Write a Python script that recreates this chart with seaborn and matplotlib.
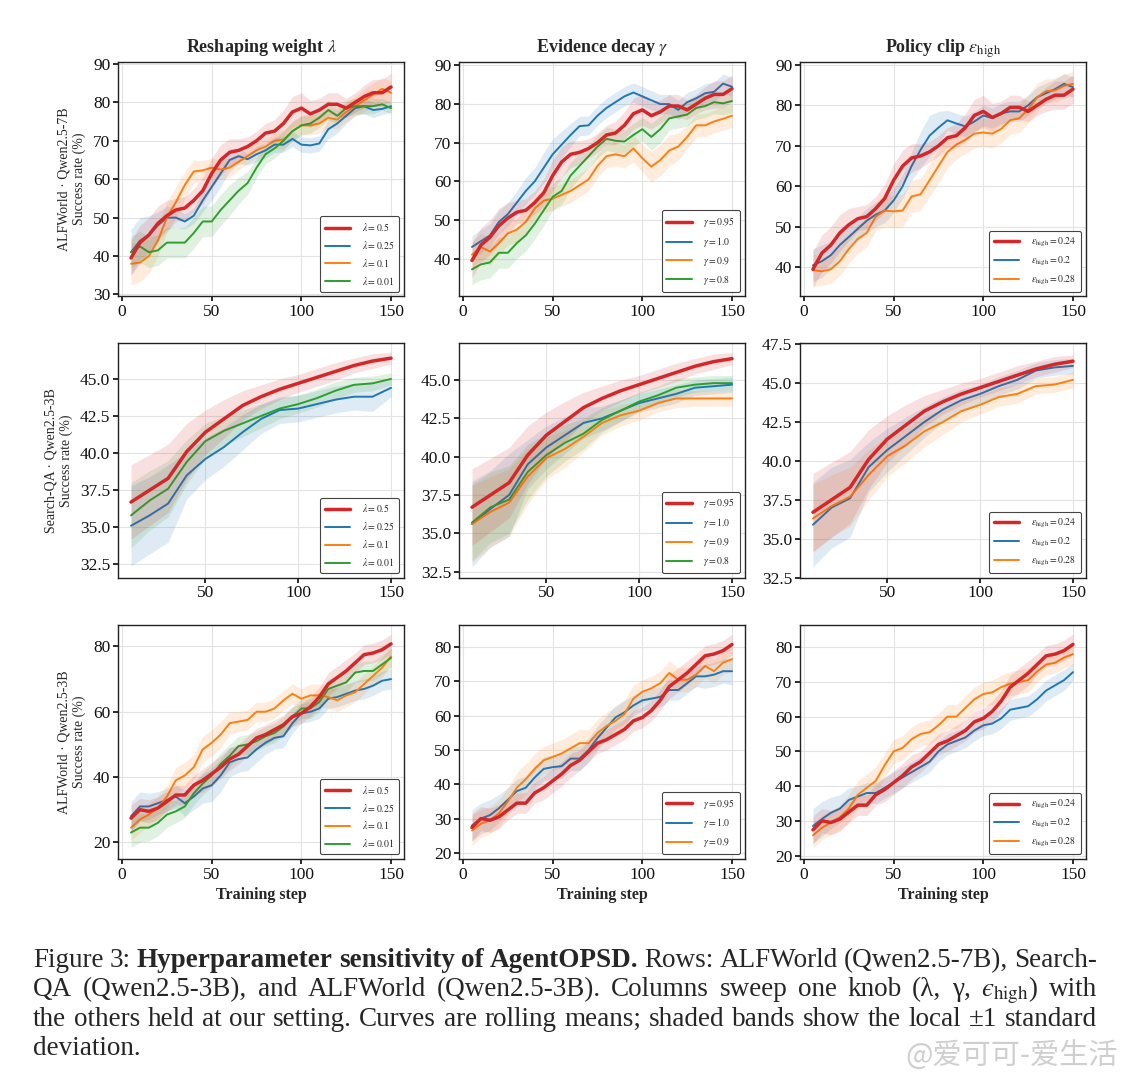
import matplotlib
matplotlib.use("Agg")
import matplotlib.pyplot as plt
from matplotlib.ticker import MultipleLocator
import numpy as np
import seaborn as sns

sns.set_theme(style="whitegrid")
plt.rcParams['font.family'] = ['Liberation Serif', 'DejaVu Serif']
plt.rcParams['mathtext.fontset'] = 'stix'
plt.rcParams['axes.edgecolor'] = '#222222'
plt.rcParams['axes.linewidth'] = 1.0
plt.rcParams['grid.color'] = '#e3e3e3'
plt.rcParams['grid.linewidth'] = 0.8
plt.rcParams['xtick.bottom'] = True
plt.rcParams['ytick.left'] = True
plt.rcParams['xtick.color'] = '#111111'
plt.rcParams['ytick.color'] = '#111111'
plt.rcParams['xtick.major.size'] = 3.5
plt.rcParams['ytick.major.size'] = 3.5

# colours of the four settings
c_red, c_blue, c_orange, c_green = '#d62728', '#1f77b4', '#ff7f0e', '#2ca02c'

# training steps
steps_alf = list(range(5, 151, 5))
steps_sqa = list(range(10, 151, 10))

# ---- Row 1: ALFWorld, Qwen2.5-7B ----
r1_red = [39.5, 43.5, 45.5, 48.5, 50.5, 52, 52.5, 54.5, 57, 61.5,
          65, 67, 67.5, 68.5, 70, 72, 72.5, 74.5, 77.5, 78.5,
          77, 78, 79.5, 79.5, 78.5, 80, 81.5, 82.5, 82.5, 84]
r1_red_sd = [4.5, 4.5, 4.5, 4.5, 4, 3, 3, 3, 3.5, 4,
             4, 3.5, 3, 2.5, 2.5, 2.5, 3, 3.5, 4, 4,
             3.5, 3, 3, 3, 2.5, 2.5, 3, 3.5, 3.5, 3.5]
r1c1_blue = [41, 44, 45.5, 48, 50, 50, 49, 50.5, 54.5, 58,
             61.5, 65, 66, 65.2, 66.5, 67.5, 69, 69, 70.5, 69,
             68.8, 69.3, 73, 74.5, 76.5, 78.5, 79, 78, 78.3, 79]
r1c1_blue_sd = [6, 6, 5, 3.5, 3, 2.5, 2, 2, 3, 3.5,
                3.5, 3, 2, 1.5, 2, 2, 2, 2, 2, 2,
                2, 2, 2.5, 2.5, 2, 2, 2, 2, 1.5, 1.5]
r1c1_orange = [38, 38.3, 40, 44, 50, 54, 58.5, 62, 62.3, 63,
               62.5, 63, 64.5, 66, 67.5, 68.5, 70, 70.3, 72.5, 74,
               74, 74.5, 76, 75.5, 77.5, 79, 80.5, 82, 83.5, 82.5]
r1c1_orange_sd = [5.5, 5, 4.5, 4, 4, 4, 3.5, 3, 2.5, 2.5,
                  2.5, 2.5, 2, 2, 2, 2, 2, 2.5, 2.5, 2.5,
                  2.5, 2.5, 2.5, 2.5, 2.5, 2.5, 3, 3, 3, 3]
r1c1_green = [41, 42.5, 41, 41.5, 43.5, 43.5, 43.5, 46, 49, 49,
              52, 54.5, 57, 59, 63, 66.5, 68, 70, 72.5, 74,
              74.5, 76, 78, 76.5, 78.5, 79, 79, 79, 79.5, 78.5]
r1c1_green_sd = [4, 4, 4, 4, 4, 4, 4, 4, 4, 4,
                 4, 4, 3.5, 3, 2.5, 2.5, 2.5, 2.5, 2.5, 2.5,
                 2.5, 2.5, 2.5, 2, 2, 2, 2, 2, 1.5, 1.5]
r1c2_blue = [43, 44.5, 46, 49.5, 51.5, 54.5, 57.5, 60, 63.5, 67,
             69.5, 72, 74.3, 74.5, 77, 79, 80.5, 82, 83, 82,
             81, 80, 80, 78.5, 80.5, 81.5, 82.8, 83.2, 85.3, 84.5]
r1c2_blue_sd = [3, 3, 3, 3, 3, 3, 3.5, 3.5, 4, 4,
                3.5, 3, 2.5, 2.5, 2.5, 2.5, 2.5, 2.5, 2.5, 2.5,
                2.5, 2.5, 2.5, 2.5, 2.5, 2.5, 2.5, 2.5, 2.5, 2.5]
r1c2_orange = [41, 43, 41.8, 44, 46.5, 47.5, 49.5, 53, 55, 55.5,
               56.5, 57.5, 59, 60.5, 64, 66.5, 67, 66.5, 68.5, 66,
               63.8, 65.5, 68, 69, 71.5, 74.5, 74.5, 75.5, 76.2, 77]
r1c2_orange_sd = [3.5, 3.5, 3.5, 3, 3, 3, 3, 3, 3, 3,
                  3, 3, 3, 3, 3, 3, 3, 3, 3.5, 3.5,
                  4, 4, 4, 3.5, 3, 3, 3, 3, 3, 3]
r1c2_green = [37.2, 38.5, 39, 41.5, 41.5, 44, 46, 49, 52.5, 56,
              57.5, 61.5, 64, 66.5, 69, 71, 70.5, 70.3, 72, 73.5,
              71.5, 73.5, 76.3, 76.8, 77.3, 79, 79.5, 80.5, 80.2, 80.8]
r1c2_green_sd = [4, 4, 4, 4, 4, 4, 4, 4, 4, 3.5,
                 3.5, 3.5, 3, 3, 3, 3, 3, 3, 3, 3,
                 3.5, 3.5, 3, 3, 3, 3, 3, 3, 3, 3]
r1c3_blue = [40.5, 41.5, 43, 45.5, 47.5, 49.5, 51.5, 53, 54, 56.5,
             60, 65, 69, 72.5, 74.5, 76.3, 75.5, 74.8, 76, 77.5,
             76.8, 78, 78.5, 78.5, 80, 82, 83, 84, 85.3, 84.5]
r1c3_blue_sd = [4, 4, 3.5, 3, 3, 3, 3, 3, 3, 3,
                3, 3.5, 4.5, 5, 4, 2.5, 2.5, 2.5, 2.5, 2.5,
                2.5, 2.5, 2.5, 2.5, 2.5, 2.5, 2.5, 2.5, 2.5, 2.5]
r1c3_orange = [39.3, 39, 39.5, 41.5, 44.5, 47, 48.5, 52.5, 54, 53.8,
               54, 57.5, 58, 61.5, 65, 68.5, 70.3, 71.5, 73, 73.3,
               73, 74.2, 76.3, 76.8, 79, 82, 83.5, 83.7, 84.8, 85.3]
r1c3_orange_sd = [4, 3.5, 3.5, 3.5, 3.5, 3.5, 3.5, 3.5, 4, 4,
                  4, 4, 4, 4, 4, 4, 3.5, 3.5, 3.5, 3.5,
                  3.5, 3.5, 3.5, 3.5, 3.5, 3.5, 3, 3, 3, 3]

# ---- Row 2: Search-QA, Qwen2.5-3B ----
r2_red = [36.7, 37.5, 38.3, 40.1, 41.4, 42.3, 43.2, 43.8, 44.3, 44.7, 45.1, 45.5, 45.9, 46.2, 46.4]
r2_red_sd = [2.5, 2.4, 2.3, 1.9, 1.5, 1.3, 1.0, 0.8, 0.7, 0.6, 0.6, 0.6, 0.5, 0.5, 0.4]
r2c1_blue = [35.1, 35.8, 36.6, 38.5, 39.6, 40.4, 41.4, 42.3, 42.9, 43.0, 43.3, 43.6, 43.8, 43.8, 44.4]
r2c1_blue_sd = [2.7, 2.6, 2.6, 1.6, 1.4, 1.3, 1.2, 1.0, 0.9, 0.9, 0.9, 0.9, 0.9, 1.0, 0.6]
r2c1_green = [35.8, 36.8, 37.6, 39.4, 40.8, 41.5, 42.0, 42.5, 43.0, 43.3, 43.7, 44.2, 44.6, 44.7, 45.0]
r2c1_green_sd = [2.2, 2.0, 1.9, 1.5, 1.2, 1.0, 0.9, 0.8, 0.7, 0.6, 0.6, 0.6, 0.5, 0.5, 0.4]
r2c2_blue = [35.6, 36.6, 37.5, 39.5, 40.6, 41.4, 42.2, 42.5, 43.0, 43.5, 43.8, 44.1, 44.5, 44.6, 44.7]
r2c2_blue_sd = [2.8, 2.5, 2.7, 1.6, 1.4, 1.2, 1.0, 0.8, 0.7, 0.6, 0.6, 0.6, 0.5, 0.5, 0.5]
r2c2_orange = [35.6, 36.4, 37.0, 38.7, 39.9, 40.5, 41.3, 42.2, 42.7, 43.0, 43.5, 43.8, 43.8, 43.8, 43.8]
r2c2_orange_sd = [2.5, 2.3, 2.2, 1.8, 1.4, 1.2, 1.0, 0.8, 0.7, 0.6, 0.6, 0.6, 0.5, 0.5, 0.5]
r2c2_green = [35.7, 36.7, 37.2, 39.0, 40.1, 40.9, 41.5, 42.4, 43.0, 43.6, 44.0, 44.5, 44.7, 44.8, 44.8]
r2c2_green_sd = [2.5, 2.3, 2.2, 1.8, 1.4, 1.2, 1.0, 0.8, 0.7, 0.6, 0.6, 0.6, 0.5, 0.5, 0.5]
r2c3_blue = [35.9, 37.0, 37.6, 39.6, 40.7, 41.6, 42.5, 43.3, 43.9, 44.3, 44.8, 45.2, 45.8, 46.0, 46.1]
r2c3_blue_sd = [2.7, 2.6, 2.5, 1.6, 1.4, 1.2, 1.0, 0.8, 0.7, 0.6, 0.6, 0.6, 0.5, 0.5, 0.5]
r2c3_orange = [36.3, 37.1, 37.7, 39.1, 40.3, 41.0, 41.9, 42.5, 43.2, 43.6, 44.1, 44.3, 44.8, 44.9, 45.2]
r2c3_orange_sd = [2.2, 2.0, 1.9, 1.6, 1.3, 1.1, 1.0, 0.8, 0.7, 0.6, 0.6, 0.6, 0.5, 0.5, 0.5]

# ---- Row 3: ALFWorld, Qwen2.5-3B ----
r3_red = [27.4, 30, 29.5, 30.5, 32.5, 34.5, 34.5, 37.5, 39, 41,
          43, 45.5, 47, 49.5, 52, 53, 54.5, 56, 58.5, 59.5,
          61.5, 64.5, 68.5, 70.5, 72.5, 75, 77.5, 78, 79, 80.8]
r3_red_sd = [4, 3.5, 3.5, 3.5, 3, 3, 3, 3, 3.5, 3.5,
             3.5, 3.5, 3, 3, 3, 3, 3, 3, 3, 3,
             3, 3, 3.5, 3.5, 3.5, 3, 3, 3, 3, 3]
r3c1_blue = [28, 31, 31, 32, 33, 34, 32, 34, 36.5, 37.5,
             40.5, 44.5, 45.5, 46, 48.5, 50.5, 52, 52.5, 56.5, 59.5,
             60, 61, 64, 64.5, 65.5, 66.5, 67, 68, 69.5, 70]
r3c1_blue_sd = [4.5, 4.5, 4, 3.5, 3.5, 3.5, 4, 4, 4.5, 5,
                5, 4.5, 4, 4, 4, 3.5, 3.5, 3.5, 3, 3,
                3, 3, 3, 3, 3, 3, 3, 3, 3, 3]
r3c1_orange = [24.5, 27, 28.5, 30.5, 34, 39, 40.5, 43, 48.5, 50.5,
               53, 56.5, 57, 57.5, 60, 60, 61, 63.5, 65.5, 64,
               65, 65, 64.5, 63.5, 65, 66, 68.5, 71, 73.5, 77]
r3c1_orange_sd = [4, 4, 3.5, 3.5, 3.5, 4, 4, 4, 4, 4,
                  4, 3.5, 3, 3, 3, 3, 3, 3, 3, 3,
                  3.5, 3.5, 3.5, 3.5, 3.5, 3, 3, 3, 3, 3]
r3c1_green = [23, 24.5, 24.5, 26, 28.5, 29.5, 31, 35, 38, 40.5,
              44, 46.5, 49.5, 50, 51, 52.5, 53.5, 55.5, 58.5, 61,
              61, 63, 67, 68, 69, 72, 72.5, 72.5, 74.5, 76.5]
r3c1_green_sd = [4.5, 4.5, 4, 4, 4, 3.5, 3.5, 3.5, 3.5, 3.5,
                 3.5, 3.5, 3, 3, 3, 3, 3, 3, 3, 3,
                 3, 3, 3, 3, 3, 3, 3, 3, 3, 3]
r3c2_blue = [28, 30, 31, 33, 35.5, 38, 39, 42, 44.5, 45,
             45.3, 47.5, 47.5, 50, 53.5, 56.5, 59.5, 61, 63, 64.5,
             65, 65.5, 67.5, 67.5, 69.5, 71.5, 71.5, 72, 73, 73]
r3c2_blue_sd = [4.5, 4.5, 4.5, 4, 3.5, 3.5, 3.5, 3.5, 3.5, 3.5,
                3.5, 3.5, 3.5, 3.5, 3.5, 3.5, 3.5, 3.5, 3, 3,
                3, 3, 3, 3, 3, 3, 3.5, 3.5, 3.5, 4]
r3c2_orange = [26.5, 28.5, 29.5, 31.5, 35, 39, 41.5, 44.5, 47, 48,
               49, 50.5, 52, 52, 55, 57, 58.5, 60.5, 65, 67,
               68, 69.5, 72.5, 70.5, 70.5, 72, 74.5, 73, 75.5, 76.5]
r3c2_orange_sd = [4.5, 4, 4, 4, 4, 4.5, 4.5, 4.5, 4, 4,
                  4, 4, 4, 4, 4, 4, 4, 4, 4, 3.5,
                  3.5, 3.5, 3.5, 3.5, 3.5, 3.5, 3.5, 3.5, 3.5, 3.5]
r3c3_blue = [28.5, 30.5, 32.3, 33.5, 36, 37, 38, 38, 39.5, 41,
             42.5, 44, 45.5, 47, 50, 52, 53, 54, 56, 57.5,
             58, 59.5, 62, 62.5, 63, 65, 67.5, 69, 70.5, 72.8]
r3c3_blue_sd = [5, 5, 4.5, 4, 3.5, 3, 3, 3, 3, 3,
                3, 3, 3, 3, 3, 3, 3, 3, 3, 3,
                3, 3, 3, 3, 3, 3, 3, 3, 3, 2.5]
r3c3_orange = [25.8, 28, 29.5, 31, 33.5, 37.5, 39.5, 41.5, 46, 50,
               51, 53.5, 55, 55.5, 57.5, 60, 60, 62.5, 65, 66.5,
               67, 68.5, 69.5, 70, 70.5, 73, 75, 75.5, 77, 78]
r3c3_orange_sd = [3.5, 3.5, 3.5, 3.5, 4, 4, 4, 4, 3.5, 3.5,
                  3.5, 3.5, 3.5, 3.5, 3.5, 3.5, 3.5, 3.5, 3.5, 3.5,
                  3.5, 3.5, 3.5, 3.5, 3.5, 3, 3, 3, 3, 3]

# labels
col_titles = [r"Reshaping weight $\lambda$", r"Evidence decay $\gamma$",
              r"Policy clip $\varepsilon_{\mathrm{high}}$"]
row_labels = ["ALFWorld · Qwen2.5-7B\nSuccess rate (%)",
              "Search-QA · Qwen2.5-3B\nSuccess rate (%)",
              "ALFWorld · Qwen2.5-3B\nSuccess rate (%)"]
lam_labels = [r"$\lambda = 0.5$", r"$\lambda = 0.25$", r"$\lambda = 0.1$", r"$\lambda = 0.01$"]
gam_labels = [r"$\gamma = 0.95$", r"$\gamma = 1.0$", r"$\gamma = 0.9$", r"$\gamma = 0.8$"]
eps_labels = [r"$\varepsilon_{\mathrm{high}} = 0.24$", r"$\varepsilon_{\mathrm{high}} = 0.2$",
              r"$\varepsilon_{\mathrm{high}} = 0.28$"]

# each panel: list of (mean, sd, colour, label); None mean -> legend entry only
panels = [
    [
        [(r1_red, r1_red_sd, c_red, lam_labels[0]), (r1c1_blue, r1c1_blue_sd, c_blue, lam_labels[1]),
         (r1c1_orange, r1c1_orange_sd, c_orange, lam_labels[2]), (r1c1_green, r1c1_green_sd, c_green, lam_labels[3])],
        [(r1_red, r1_red_sd, c_red, gam_labels[0]), (r1c2_blue, r1c2_blue_sd, c_blue, gam_labels[1]),
         (r1c2_orange, r1c2_orange_sd, c_orange, gam_labels[2]), (r1c2_green, r1c2_green_sd, c_green, gam_labels[3])],
        [(r1_red, r1_red_sd, c_red, eps_labels[0]), (r1c3_blue, r1c3_blue_sd, c_blue, eps_labels[1]),
         (r1c3_orange, r1c3_orange_sd, c_orange, eps_labels[2])],
    ],
    [
        [(r2_red, r2_red_sd, c_red, lam_labels[0]), (r2c1_blue, r2c1_blue_sd, c_blue, lam_labels[1]),
         (None, None, c_orange, lam_labels[2]), (r2c1_green, r2c1_green_sd, c_green, lam_labels[3])],
        [(r2_red, r2_red_sd, c_red, gam_labels[0]), (r2c2_blue, r2c2_blue_sd, c_blue, gam_labels[1]),
         (r2c2_orange, r2c2_orange_sd, c_orange, gam_labels[2]), (r2c2_green, r2c2_green_sd, c_green, gam_labels[3])],
        [(r2_red, r2_red_sd, c_red, eps_labels[0]), (r2c3_blue, r2c3_blue_sd, c_blue, eps_labels[1]),
         (r2c3_orange, r2c3_orange_sd, c_orange, eps_labels[2])],
    ],
    [
        [(r3_red, r3_red_sd, c_red, lam_labels[0]), (r3c1_blue, r3c1_blue_sd, c_blue, lam_labels[1]),
         (r3c1_orange, r3c1_orange_sd, c_orange, lam_labels[2]), (r3c1_green, r3c1_green_sd, c_green, lam_labels[3])],
        [(r3_red, r3_red_sd, c_red, gam_labels[0]), (r3c2_blue, r3c2_blue_sd, c_blue, gam_labels[1]),
         (r3c2_orange, r3c2_orange_sd, c_orange, gam_labels[2])],
        [(r3_red, r3_red_sd, c_red, eps_labels[0]), (r3c3_blue, r3c3_blue_sd, c_blue, eps_labels[1]),
         (r3c3_orange, r3c3_orange_sd, c_orange, eps_labels[2])],
    ],
]
row_steps = [steps_alf, steps_sqa, steps_alf]
ylims = [[(29.5, 90.5), (30.2, 90.9), (32.8, 90.7)],
         [(31.6, 47.4), (32.1, 47.4), (32.5, 47.55)],
         [(14.9, 86.7), (18.2, 86.6), (19.0, 86.5)]]
ysteps = [[10, 10, 10], [2.5, 2.5, 2.5], [20, 10, 10]]

W, H = 1133, 1080
fig, axes = plt.subplots(3, 3, figsize=(W / 100, H / 100), dpi=100)
fig.subplots_adjust(left=118 / W, right=1086 / W, top=1 - 62 / H, bottom=1 - 859 / H,
                    wspace=0.192, hspace=0.2)

for r in range(3):
    steps = row_steps[r]
    for c in range(3):
        ax = axes[r, c]
        for i, (mean, sd, color, lab) in enumerate(panels[r][c]):
            lw = 2.5 if i == 0 else 1.4
            z = 5 if i == 0 else 3
            if mean is None:
                ax.plot([], [], color=color, lw=lw, label=lab)
                continue
            m = np.array(mean)
            s = np.array(sd)
            ax.fill_between(steps, m - s, m + s, color=color, alpha=0.14, lw=0, zorder=z - 1)
            sns.lineplot(x=steps, y=mean, ax=ax, color=color, linewidth=lw, label=lab, zorder=z)
        ax.set_ylim(*ylims[r][c])
        ax.yaxis.set_major_locator(MultipleLocator(ysteps[r][c]))
        ax.xaxis.set_major_locator(MultipleLocator(50))
        ax.tick_params(labelsize=12.5, pad=2)
        ax.grid(True, color='#e3e3e3', lw=0.8)
        for sp in ax.spines.values():
            sp.set_color('#222222')
        leg = ax.legend(loc='lower right', fontsize=7, frameon=True, framealpha=1,
                        edgecolor='#444444', handlelength=2.6, borderpad=0.5,
                        labelspacing=0.6, handletextpad=1.2)
        leg.get_frame().set_linewidth(0.8)
        if r == 0:
            ax.set_title(col_titles[c], fontsize=13, fontweight='bold', pad=7)
        if c == 0:
            ax.set_ylabel(row_labels[r], fontsize=10, labelpad=5)
        if r == 2:
            ax.set_xlabel("Training step", fontsize=11.5, fontweight='bold', labelpad=3)

# caption, justified word by word
renderer = fig.canvas.get_renderer()
cap_size = 19.5
cap_left, cap_right = 33, 1097
cap_family = ['Liberation Serif', 'DejaVu Serif']


def caption_line(tokens, y_px, justify=True):
    arts = [fig.text(0, 1 - y_px / H, w, fontsize=cap_size, fontweight=wt,
                     family=cap_family, va='baseline', ha='left') for w, wt in tokens]
    widths = [t.get_window_extent(renderer).width for t in arts]
    gap = (cap_right - cap_left - sum(widths)) / (len(arts) - 1) if justify else cap_size * 0.35
    x = cap_left
    for t, w in zip(arts, widths):
        t.set_x(x / W)
        x += w + gap


def words(s, wt='normal'):
    return [(w, wt) for w in s.split(' ')]


caption_line(words("Figure 3:") + words("Hyperparameter sensitivity of AgentOPSD.", 'bold')
             + words("Rows: ALFWorld (Qwen2.5-7B), Search-"), 967)
caption_line(words("QA (Qwen2.5-3B), and ALFWorld (Qwen2.5-3B). Columns sweep one knob (λ, γ,")
             + [("$\u03f5_{\\mathrm{high}}$)", 'normal'), ("with", 'normal')], 996)
caption_line(words("the others held at our setting. Curves are rolling means; shaded bands show the local ±1 standard"), 1026)
caption_line(words("deviation."), 1055, justify=False)

fig.text(905 / W, 1 - 1064 / H, "@爱可可-爱生活", fontsize=21, color='#cfcfcf',
         family=['Noto Sans CJK SC', 'DejaVu Sans'], va='baseline')

fig.savefig("out.png", dpi=100)
